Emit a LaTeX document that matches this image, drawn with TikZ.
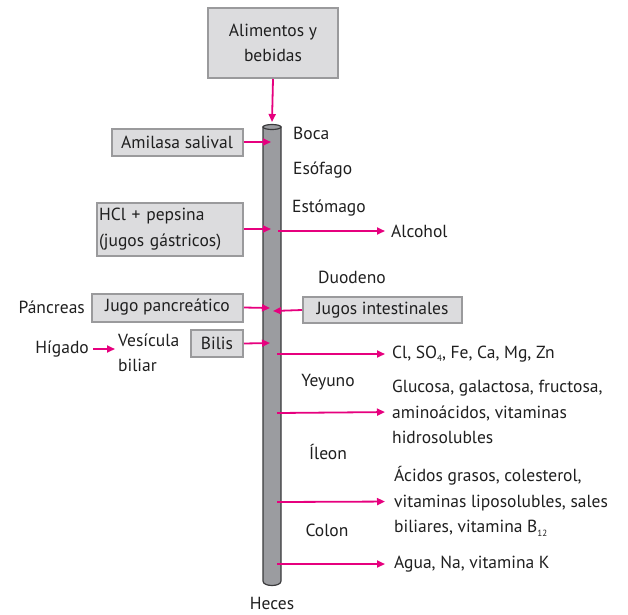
\documentclass[tikz,border=0pt]{standalone}
\usepackage{fontspec}
\setmainfont{PT Sans}
\usetikzlibrary{arrows.meta}
\definecolor{mag}{HTML}{E6007E}
\definecolor{boxfill}{HTML}{DCDCDE}
\definecolor{boxline}{HTML}{9A9A9C}
\definecolor{tubefill}{HTML}{9B9CA0}
\definecolor{tubeline}{HTML}{3A3A3C}
\newcommand{\lowsub}[1]{\raisebox{-3.5pt}{\fontsize{9}{9}\selectfont #1}}
\begin{document}
\begin{tikzpicture}[x=1pt,y=-1pt,
  every node/.style={font=\fontsize{17.5}{25.5}\selectfont, inner sep=0pt, text=black!88},
  gbox/.style={draw=boxline, line width=2pt, fill=boxfill},
  arr/.style={draw=mag, line width=1.8pt, -{Triangle[length=8pt,width=7pt]}},
  lbl/.style={anchor=west},
  ctr/.style={anchor=center}]
\useasboundingbox (0,0) rectangle (628,614);
% tube
\path[fill=tubefill, draw=tubeline, line width=1.2pt]
  (263,127) -- (263,581) .. controls (263,587) and (281,587) .. (281,581) -- (281,127) -- cycle;
\draw[fill=tubefill, draw=tubeline, line width=1.2pt] (272,127) ellipse [x radius=9, y radius=2.5];
% tube target coordinates
\coordinate (tin) at (272,122);
\coordinate (t1) at (271,142);
\coordinate (t2) at (271,229);
\coordinate (t2r) at (278,231);
\coordinate (t3) at (270,308);
\coordinate (t3r) at (273,311);
\coordinate (t4) at (270,343);
\coordinate (o1) at (277,354);
\coordinate (o2) at (277,413);
\coordinate (o3) at (277,502);
\coordinate (o4) at (277,564);
% boxes
\node[gbox, minimum width=130pt, minimum height=70pt, align=center] (alim) at (273,43) {Alimentos y\\bebidas};
\node[gbox, minimum width=131pt, minimum height=27pt] (amil) at (177,142) {Amilasa salival};
\node[gbox, minimum width=146pt, minimum height=53pt, align=left, text width=142pt, inner xsep=2pt] (hcl) at (170,229) {HCl + pepsina\\(jugos gástricos)};
\node[gbox, minimum width=151pt, minimum height=28pt] (panc) at (167.5,307.5) {Jugo pancreático};
\node[gbox, minimum width=159pt, minimum height=26pt] (intes) at (382.5,310) {Jugos intestinales};
\node[gbox, minimum width=52pt, minimum height=27pt] (bilis) at (217,343.5) {Bilis};
% labels
\node[lbl] (boca) at (293,133) {Boca};
\node[lbl] (esof) at (293,170) {Esófago};
\node[lbl] (esto) at (292,208) {Estómago};
\node[lbl] (alc) at (391,231) {Alcohol};
\node[lbl] (duod) at (318,277) {Duodeno};
\node[anchor=east] (pancr) at (85,307) {Páncreas};
\node[anchor=east] (higa) at (89,349) {Hígado};
\node[anchor=west, align=left] (vesi) at (118,353) {Vesícula\\biliar};
\node[lbl] (min) at (392,354) {Cl, SO\lowsub{4}, Fe, Ca, Mg, Zn};
\node[ctr] (yey) at (328,382) {Yeyuno};
\node[anchor=west, align=left] (gluc) at (392,412) {Glucosa, galactosa, fructosa,\\aminoácidos, vitaminas\\hidrosolubles};
\node[ctr] (ileo) at (328,452) {Íleon};
\node[anchor=west, align=left] (acid) at (394,501.5) {Ácidos grasos, colesterol,\\vitaminas liposolubles, sales\\biliares, vitamina B\lowsub{12}};
\node[ctr] (colo) at (327,530) {Colon};
\node[lbl] (agua) at (394,564) {Agua, Na, vitamina K};
\node[ctr] (hece) at (272,603) {Heces};
% arrows
\draw[arr] (alim.south) -- (tin);
\draw[arr] (amil.east) -- (t1);
\draw[arr] (hcl.east) -- (t2);
\draw[arr, shorten >=6pt] (t2r) -- (alc.west);
\draw[arr] (panc.east) -- (t3);
\draw[arr] (intes.west) -- (t3r);
\draw[arr] (bilis.east) -- (t4);
\draw[arr, shorten >=3pt] (higa.east) ++(4,0) -- (vesi.west |- higa.east);
\draw[arr, shorten >=7pt] (o1) -- (min.west);
\draw[arr, shorten >=7pt] (o2) -- (gluc.west);
\draw[arr, shorten >=9pt] (o3) -- (acid.west);
\draw[arr, shorten >=9pt] (o4) -- (agua.west);
\end{tikzpicture}
\end{document}
